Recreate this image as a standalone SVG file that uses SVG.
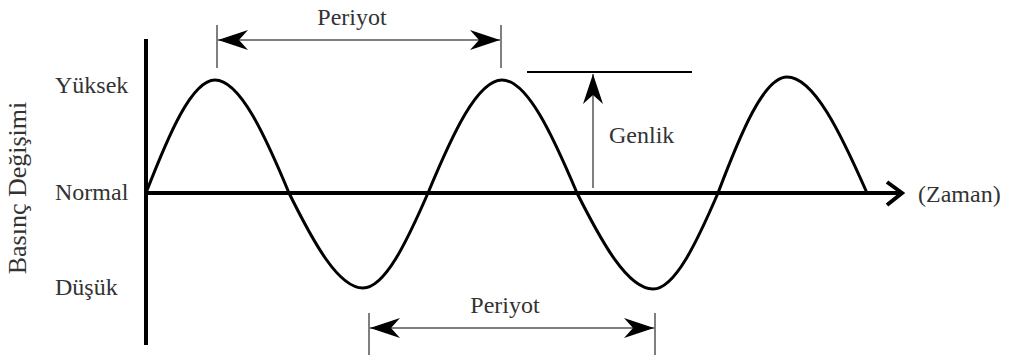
<svg xmlns="http://www.w3.org/2000/svg" width="1009" height="356" viewBox="0 0 1009 356">
  <style>
    .lbl { font-family: "Liberation Serif", "Times New Roman", serif; font-size: 24px; fill: #333; }
    .axis { stroke: #000; stroke-width: 4; fill: none; }
    .wave { stroke: #000; stroke-width: 3; fill: none; stroke-linejoin: round; }
    .dim { stroke: #555; stroke-width: 1.5; fill: none; }
    .tick { stroke: #555; stroke-width: 1.5; }
  </style>
  <defs>
    <marker id="barb" markerUnits="userSpaceOnUse" markerWidth="34" markerHeight="24" viewBox="-32 -12 34 24" refX="0" refY="0" orient="auto-start-reverse">
      <path d="M0,0 L-30,-10 L-21,0 L-30,10 Z" fill="#000"/>
    </marker>
  </defs>
  <rect width="1009" height="356" fill="#fff"/>

  <g id="axes">
    <line class="axis" x1="146" y1="39" x2="146" y2="345"/>
    <line class="axis" x1="146" y1="193" x2="900" y2="193"/>
    <path class="axis" d="M887,182 L902,193 L887,205"/>
  </g>

  <g id="wave">
    <path class="wave" d="M146,193 C168.5,135.1 191.8,80 215,80 C239.8,80 264.9,135.1 289,193 C313.1,241.7 338.2,288 363,288 C384.8,288 406.8,241.7 428,193 C452.1,135.1 477.2,80 502,80 C527.2,80 552.5,135.1 577,193 C601.8,242.2 627.5,289 653,289 C674.8,289 696.8,242.2 718,193 C740.5,133.6 763.8,77 787,77 C813.9,77 840.9,133.6 867,193"/>
  </g>

  <g id="labels-y">
    <text class="lbl" x="55" y="93">Yüksek</text>
    <text class="lbl" x="55" y="200">Normal</text>
    <text class="lbl" x="55" y="295">Düşük</text>
    <text class="lbl" style="font-size:26px" text-anchor="middle" transform="translate(26,188) rotate(-90)">Basınç Değişimi</text>
  </g>

  <g id="zaman">
    <text class="lbl" x="918" y="202">(Zaman)</text>
  </g>

  <g id="connectors">
    <g id="periyot-top">
      <line class="tick" x1="217" y1="25" x2="217" y2="68"/>
      <line class="tick" x1="501" y1="25" x2="501" y2="68"/>
      <line class="dim" x1="218" y1="40" x2="500" y2="40" marker-start="url(#barb)" marker-end="url(#barb)"/>
      <text class="lbl" x="352" y="25" text-anchor="middle">Periyot</text>
    </g>
    <g id="periyot-bottom">
      <line class="tick" x1="369" y1="313" x2="369" y2="355"/>
      <line class="tick" x1="655" y1="313" x2="655" y2="355"/>
      <line class="dim" x1="370" y1="328" x2="654" y2="328" marker-start="url(#barb)" marker-end="url(#barb)"/>
      <text class="lbl" x="505" y="313" text-anchor="middle">Periyot</text>
    </g>
    <g id="genlik">
      <line x1="527" y1="72" x2="692" y2="72" stroke="#000" stroke-width="2"/>
      <line class="dim" x1="593" y1="188" x2="593" y2="74" marker-end="url(#barb)"/>
      <text class="lbl" x="609" y="143">Genlik</text>
    </g>
  </g>
</svg>
